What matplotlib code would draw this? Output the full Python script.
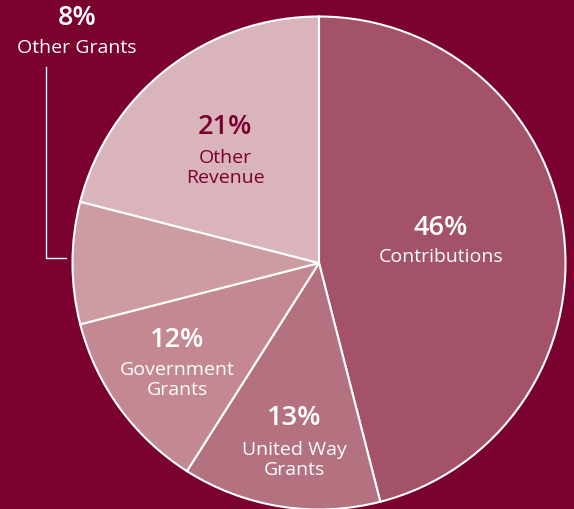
import matplotlib
matplotlib.use("Agg")
import matplotlib.pyplot as plt

plt.rcParams['font.family'] = ['Open Sans', 'DejaVu Sans']

categories = ['Contributions', 'United Way\nGrants', 'Government\nGrants', 'Other Grants', 'Other\nRevenue']
percents = [46, 13, 12, 8, 21]
colors = ['#a35267', '#b4717f', '#c38891', '#cd9ba2', '#d9b4ba']

BG = '#7a0030'
W, H = 574, 510


def py(y):
    # pixel row from top -> data y
    return H - y


fig = plt.figure(figsize=(W / 100, H / 100), dpi=100, facecolor=BG)
ax = fig.add_axes([0, 0, 1, 1])
ax.set_facecolor(BG)

ax.pie(percents, colors=colors, startangle=90, counterclock=False,
       center=(319, py(264)), radius=246.5, frame=True,
       wedgeprops=dict(edgecolor='white', linewidth=1.5))
ax.set_xlim(0, W)
ax.set_ylim(0, H)
ax.set_aspect('equal')
ax.axis('off')

# label positions (pixel coords): percent line, name block centre
label_pos = [(441, 228, 257), (294, 418, 460), (177, 340, 380), (77, 18, 48), (225, 127, 168)]
text_colors = ['white', 'white', 'white', 'white', BG]

for cat, pct, (x, yp, yn), tc in zip(categories, percents, label_pos, text_colors):
    ax.text(x, py(yp), f'{pct}%', ha='center', va='center', color=tc,
            fontsize=19.5, fontweight='semibold')
    ax.text(x, py(yn), cat, ha='center', va='center', color=tc,
            fontsize=14, linespacing=1.2)

# leader line for Other Grants
ax.plot([46, 46, 66], [py(68), py(259), py(259)], color='white', linewidth=1)

fig.savefig('out.png', dpi=100, facecolor=BG)
